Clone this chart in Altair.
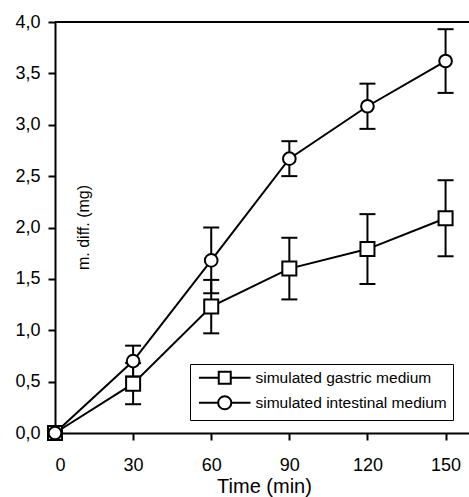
import altair as alt
import pandas as pd

time = [0, 30, 60, 90, 120, 150]
gastric = [0, 0.48, 1.23, 1.60, 1.79, 2.09]
gastric_err = [0, 0.20, 0.26, 0.30, 0.34, 0.37]
intestinal = [0, 0.70, 1.68, 2.67, 3.18, 3.62]
intestinal_err = [0, 0.15, 0.32, 0.17, 0.22, 0.31]
series_names = ["simulated gastric medium", "simulated intestinal medium"]
x_ticks = [0, 30, 60, 90, 120, 150]
y_ticks = [0, 0.5, 1.0, 1.5, 2.0, 2.5, 3.0, 3.5, 4.0]

rows = []
for name, vals, errs in [(series_names[0], gastric, gastric_err), (series_names[1], intestinal, intestinal_err)]:
    for t, v, e in zip(time, vals, errs):
        rows.append({"time": t, "value": v, "err": e, "lo": v - e, "hi": v + e, "series": name})
df = pd.DataFrame(rows)

FONT = "Liberation Sans"
xs = alt.Scale(domain=[0, 159], nice=False, zero=False)
ys = alt.Scale(domain=[0, 4], nice=False)

xenc = alt.X("time:Q", scale=xs, axis=alt.Axis(
    values=x_ticks, title="Time (min)", grid=False, domainColor="black", domainWidth=2,
    tickColor="black", tickWidth=2, tickSize=7, labelFontSize=18, labelColor="black",
    labelFont=FONT, labelPadding=16, titleFont=FONT, titleFontSize=20, titleFontWeight="normal",
    titleColor="black", titleX=209, titleY=59, titleBaseline="alphabetic",
    titleAlign="center"))
yenc = alt.Y("value:Q", scale=ys, axis=alt.Axis(
    values=y_ticks, title="m. diff. (mg)", grid=False, domainColor="black", domainWidth=2,
    tickColor="black", tickWidth=2, tickSize=7, labelFontSize=18, labelColor="black",
    labelFont=FONT, labelPadding=8,
    labelExpr="replace(format(datum.value, '.1f'), '.', ',')",
    titleFont=FONT, titleFontSize=16, titleFontWeight="normal", titleColor="black",
    titleX=28, titleY=205, titleAngle=270, titleAlign="center", titleBaseline="middle"))

base = alt.Chart(df)

lines = base.mark_line(color="black", strokeWidth=2).encode(
    x=xenc, y=yenc, detail="series:N")

err_rules = base.transform_filter("datum.err > 0").mark_rule(color="black", strokeWidth=2).encode(
    x=alt.X("time:Q", scale=xs), y=alt.Y("lo:Q", scale=ys), y2="hi:Q")
cap_lo = base.transform_filter("datum.err > 0").mark_tick(
    color="black", thickness=2, size=16, orient="horizontal", opacity=1).encode(
    x=alt.X("time:Q", scale=xs), y=alt.Y("lo:Q", scale=ys))
cap_hi = base.transform_filter("datum.err > 0").mark_tick(
    color="black", thickness=2, size=16, orient="horizontal", opacity=1).encode(
    x=alt.X("time:Q", scale=xs), y=alt.Y("hi:Q", scale=ys))

sq = base.transform_filter(alt.datum.series == series_names[0]).mark_point(
    shape="square", size=196, filled=True, fill="white", stroke="black", strokeWidth=2, opacity=1).encode(
    x=alt.X("time:Q", scale=xs), y=alt.Y("value:Q", scale=ys))
ci = base.transform_filter(alt.datum.series == series_names[1]).mark_point(
    shape="circle", size=160, filled=True, fill="white", stroke="black", strokeWidth=2, opacity=1).encode(
    x=alt.X("time:Q", scale=xs), y=alt.Y("value:Q", scale=ys))

top_rule = alt.Chart(pd.DataFrame({"v": [4.0]})).mark_rule(color="black", strokeWidth=2).encode(
    y=alt.Y("v:Q", scale=ys), x=alt.value(0), x2=alt.value(414))

sq_path = "M-4.3,0H-1M1,0H4.3M-1,-1H1V1H-1Z"
ci_path = "M-4.3,0H-1.1M1.1,0H4.3M-1.1,0A1.1,1.1 0 1,0 1.1,0A1.1,1.1 0 1,0 -1.1,0Z"

legend_layer = base.mark_point(opacity=0).encode(
    x=alt.X("time:Q", scale=xs), y=alt.Y("value:Q", scale=ys),
    shape=alt.Shape("series:N", scale=alt.Scale(domain=series_names, range=[sq_path, ci_path]),
                    legend=alt.Legend(
                        title=None, orient="none", legendX=135, legendY=342,
                        strokeColor="black", fillColor="white", padding=6,
                        cornerRadius=0, symbolSize=144, symbolStrokeWidth=2,
                        symbolStrokeColor="black", symbolFillColor="white", symbolOpacity=1,
                        symbolOffset=21, labelOffset=23, labelFont=FONT, labelFontSize=15.5,
                        labelColor="black", rowPadding=4, labelLimit=400)))

chart = alt.layer(lines, err_rules, cap_lo, cap_hi, top_rule, sq, ci, legend_layer).properties(
    width=414, height=411,
    autosize=alt.AutoSizeParams(type="none"),
    padding={"left": 55, "top": 22, "right": 0, "bottom": 64},
).configure_view(stroke=None).configure(background="white")

chart.save("out.html", embed_options={"renderer": "svg", "actions": False})
